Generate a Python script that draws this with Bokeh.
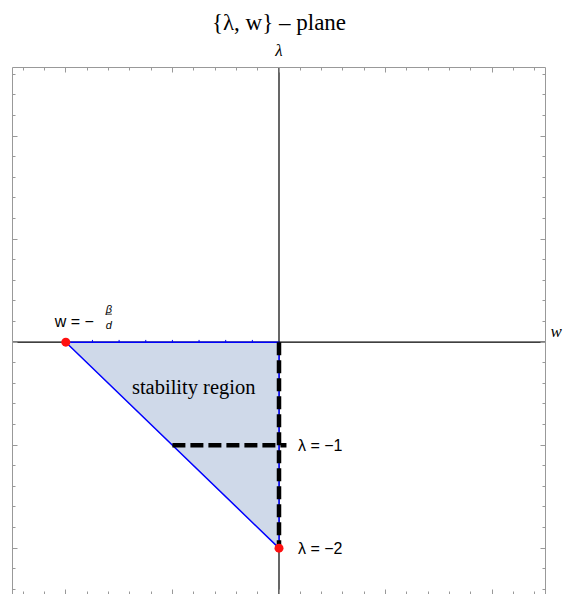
from bokeh.plotting import figure
from bokeh.models import Label, Span, LinearAxis, FixedTicker, Range1d, CustomJSTickFormatter
from bokeh.embed import file_html
from bokeh.resources import INLINE

# ---- data ----
beta_over_d = 2.0                      # w = -beta/d  (vertex on the w axis)
region_w = [-beta_over_d, 0.0, 0.0]    # stability triangle (w coords)
region_lam = [0.0, 0.0, -2.0]          # stability triangle (lambda coords)
boundary_w = [-beta_over_d, 0.0, 0.0, -beta_over_d]
boundary_lam = [0.0, 0.0, -2.0, 0.0]
dash_h_w = [-1.0, 0.07]                # lambda = -1 line
dash_h_lam = [-1.0, -1.0]
dash_v_w = [0.0, 0.0]                  # w = 0 segment
dash_v_lam = [0.0, -2.0]
points_w = [-beta_over_d, 0.0]
points_lam = [0.0, -2.0]
axis_ticks_w = [-1.75, -1.5, -1.25, -1.0, -0.75, -0.5, -0.25]

x_major = [-2, -1, 0, 1, 2]
x_minor = [-2.4, -2.2, -1.8, -1.6, -1.4, -1.2, -0.8, -0.6, -0.4, -0.2,
           0.2, 0.4, 0.6, 0.8, 1.2, 1.4, 1.6, 1.8, 2.2, 2.4]
y_major = [-2, -1, 0, 1, 2]
y_minor = [-2.4, -2.2, -1.8, -1.6, -1.4, -1.2, -0.8, -0.6, -0.4, -0.2,
           0.2, 0.4, 0.6, 0.8, 1.2, 1.4, 1.6, 1.8, 2.2, 2.4, 2.6]

title_text = "{λ, w} – plane"
x_label = "w"
y_label = "λ"
region_label = "stability region"
line_labels = ["λ = −1", "λ = −2"]
vertex_label = "w = −"
frac_num, frac_den = "β", "d"

X_RANGE = (-2.5, 2.5)
Y_RANGE = (-2.45, 2.667)
FW, FH = 533, 527

SERIF = "Liberation Serif"
SANS = "Liberation Sans"

p = figure(frame_width=FW, frame_height=FH,
           x_range=Range1d(*X_RANGE), y_range=Range1d(*Y_RANGE),
           x_axis_location=None, y_axis_location=None,
           output_backend="svg", toolbar_location=None,
           min_border_left=12, min_border_right=0,
           min_border_top=67, min_border_bottom=0,
           title=title_text)
p.outline_line_color = None
p.grid.visible = False
p.background_fill_color = "white"
p.border_fill_color = "white"
p.title.text_font = SERIF
p.title.text_font_size = "23px"
p.title.text_font_style = "normal"
p.title.text_color = "black"
p.title.align = "center"
p.title.standoff = 5
p.title.offset = 0

FRAME_COL = "#999999"
def styled_axis(major, minor, label=None):
    ax = LinearAxis(ticker=FixedTicker(ticks=major, minor_ticks=minor),
                    formatter=CustomJSTickFormatter(code="return ''"))
    ax.axis_line_color = FRAME_COL
    ax.axis_line_width = 1
    ax.major_tick_line_color = FRAME_COL
    ax.minor_tick_line_color = FRAME_COL
    ax.major_tick_in = 5
    ax.major_tick_out = 0
    ax.minor_tick_in = 3
    ax.minor_tick_out = 0
    ax.major_label_standoff = 0
    ax.axis_label = label
    if label is not None:
        ax.axis_label_text_font = SERIF
        ax.axis_label_text_font_style = "italic"
        ax.axis_label_text_font_size = "17px"
        ax.axis_label_text_color = "black"
    return ax

p.add_layout(styled_axis(x_major, x_minor), "below")
top_ax = styled_axis(x_major, x_minor, y_label)
top_ax.axis_label_standoff = 8
p.add_layout(top_ax, "above")
p.add_layout(styled_axis(y_major, y_minor), "left")
right_ax = styled_axis(y_major, y_minor, x_label)
right_ax.axis_label_orientation = "horizontal"
right_ax.axis_label_standoff = 5
p.add_layout(right_ax, "right")

# coordinate axes through origin
p.add_layout(Span(location=0, dimension="width", line_color="black",
                  line_width=1.2, level="underlay"))
p.add_layout(Span(location=0, dimension="height", line_color="black",
                  line_width=1.2, level="underlay"))

# stability region
p.patch(region_w, region_lam, fill_color="#CFD9E9", line_color=None)
p.line(boundary_w, boundary_lam, line_color="#0000FF", line_width=1.5)
p.segment(x0=axis_ticks_w, y0=[0.0] * len(axis_ticks_w),
          x1=axis_ticks_w, y1=[0.022] * len(axis_ticks_w),
          line_color="#0000FF", line_width=1)

# dashed lines
p.line(dash_h_w, dash_h_lam, line_color="black", line_width=4.5, line_dash="13 5")
p.line(dash_v_w, dash_v_lam, line_color="black", line_width=4.5, line_dash="13 5")

# red points
p.scatter(points_w, points_lam, size=9, color="#FF1010", line_color=None)

# region label
p.add_layout(Label(x=-0.8, y=-0.44, text=region_label, text_font=SERIF,
                   text_font_size="20.5px", text_color="black",
                   text_align="center", text_baseline="alphabetic"))

# line labels
for lab, lam in zip(line_labels, [-1.0, -2.0]):
    p.add_layout(Label(x=0, y=lam, x_offset=19, text=lab, text_font=SANS,
                       text_font_size="16px", text_color="black",
                       text_align="left", text_baseline="middle"))

# vertex label  w = -beta/d
p.add_layout(Label(x=-beta_over_d, y=0, x_offset=-11, y_offset=21, text=vertex_label,
                   text_font=SANS, text_font_size="16px", text_color="black",
                   text_align="left", text_baseline="alphabetic"))
p.add_layout(Label(x=-beta_over_d, y=0, x_offset=43, y_offset=33, text=frac_num,
                   text_font=SANS, text_font_style="italic", text_font_size="11px",
                   text_color="black", text_align="center", text_baseline="middle"))
p.add_layout(Label(x=-beta_over_d, y=0, x_offset=43, y_offset=17, text=frac_den,
                   text_font=SANS, text_font_style="italic", text_font_size="11px",
                   text_color="black", text_align="center", text_baseline="middle"))
px_per_w = FW / (X_RANGE[1] - X_RANGE[0])
px_per_l = FH / (Y_RANGE[1] - Y_RANGE[0])
p.segment(x0=[-beta_over_d + 40 / px_per_w], y0=[28 / px_per_l],
          x1=[-beta_over_d + 46 / px_per_w], y1=[28 / px_per_l],
          line_color="black", line_width=0.8)

open("out.html", "w").write(file_html(p, INLINE))
